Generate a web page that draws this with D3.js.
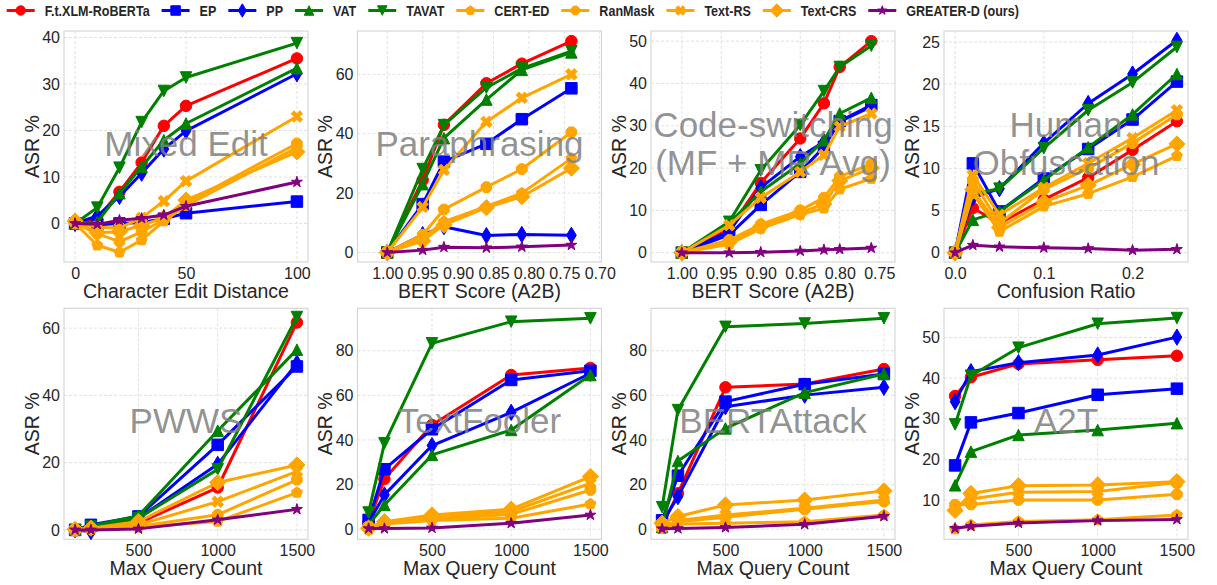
<!DOCTYPE html>
<html><head><meta charset="utf-8">
<script src="https://cdn.jsdelivr.net/npm/d3@7"></script>
<style>
body{margin:0;background:#fff}
svg{display:block}
text{font-family:"Liberation Sans",Arial,Helvetica,sans-serif}
</style>
</head><body>
<svg id="chart" width="1217" height="585"></svg>
<script>
// ---------------- DATA ----------------
const methods = ["F.t.XLM-RoBERTa","EP","PP","VAT","TAVAT","CERT-ED","RanMask","Text-RS","Text-CRS","GREATER-D (ours)"];
const panelTitles = ["Mixed Edit","Paraphrasing","Code-switching\n(MF + MR Avg)","Human\nObfuscation","PWWS","TextFooler","BERTAttack","A2T"];
const xLabels = ["Character Edit Distance","BERT Score (A2B)","BERT Score (A2B)","Confusion Ratio","Max Query Count","Max Query Count","Max Query Count","Max Query Count"];

const xEdit  = [0,10,20,30,40,50,100];
const xPara  = [1.00,0.95,0.92,0.86,0.81,0.74];
const xCode  = [1.00,0.94,0.90,0.85,0.82,0.80,0.76];
const xConf  = [0,0.02,0.05,0.1,0.15,0.2,0.25];
const xQuery = [100,200,500,1000,1500];

const xTicksEdit  = [0,50,100];
const xTicksPara  = [1.00,0.95,0.90,0.85,0.80,0.75,0.70];
const xTicksCode  = [1.00,0.95,0.90,0.85,0.80,0.75];
const xTicksConf  = [0.0,0.1,0.2];
const xTicksQuery = [500,1000,1500];

const yTicksEdit  = [0,10,20,30,40];
const yTicksPara  = [0,20,40,60];
const yTicksCode  = [0,10,20,30,40,50];
const yTicksConf  = [0,5,10,15,20,25];
const yTicksPWWS  = [0,20,40,60];
const yTicksTF    = [0,20,40,60,80];
const yTicksBA    = [0,20,40,60,80];
const yTicksA2T   = [10,20,30,40,50];

// ASR % per method, one array per panel (panel order as panelTitles)
const asrFtXLM = [
  [0,1.0,6.8,13.1,21.0,25.3,35.5],
  [0,24.4,43.0,57.0,63.6,71.2],
  [0,5.5,16.5,27.0,35.3,43.9,50.0],
  [0,5.3,3.5,6.3,8.9,12.2,15.6],
  [0,0.5,2.0,12.6,61.7],
  [3.0,22.5,46.7,69.1,72.3],
  [1.5,16.1,63.6,65.1,71.8],
  [35.6,40.2,43.5,44.5,45.5]];
const asrEP = [
  [0,-0.3,0,0.2,1.0,2.2,4.7],
  [0,16.3,30.6,36.6,44.9,55.3],
  [0,4.2,11.3,19.1,25.0,31.1,34.9],
  [0,10.6,4.9,8.8,12.3,15.8,20.3],
  [0,1.5,4.0,25.3,48.6],
  [4.2,26.9,44.8,66.9,71.0],
  [4.0,24.0,57.2,65.0,69.6],
  [18.5,29.1,31.4,35.9,37.4]];
const asrPP = [
  [0,1.6,5.8,10.8,16.0,19.9,32.2],
  [0,6.0,8.7,5.7,6.1,5.8],
  [0,5.0,15.4,22.7,26.2,31.0,34.5],
  [0,6.5,7.6,13.0,17.7,21.2,25.2],
  [0,-0.5,3.5,19.5,49.6],
  [3.0,15.4,37.5,52.4,69.9],
  [3.0,14.6,54.9,60.1,63.6],
  [34.2,41.6,43.8,45.7,50.1]];
const asrVAT = [
  [0,0.3,6.5,12.2,17.9,21.5,33.4],
  [0,23.0,38.5,51.5,61.5,67.4],
  [0,7.0,14.4,21.1,26.6,32.9,36.6],
  [0,3.9,4.9,8.6,12.5,16.4,21.2],
  [0,1.2,4.2,29.5,53.6],
  [2.0,10.9,33.3,44.5,69.1],
  [1.0,30.6,45.2,61.2,69.6],
  [13.6,21.9,26.0,27.2,28.9]];
const asrTAVAT = [
  [0,3.4,12.0,21.8,28.5,31.4,38.8],
  [0,28.1,42.9,55.5,62.0,67.8],
  [0,7.3,19.5,30.2,38.2,43.9,48.9],
  [0,7.0,7.6,12.4,16.9,20.2,24.4],
  [0,1.0,3.5,18.0,63.3],
  [7.5,38.5,83.3,93.0,94.5],
  [9.9,53.4,90.7,92.2,94.5],
  [28.6,40.6,47.5,53.4,54.8]];
const asrCERT = [
  [0,-4.7,-6.2,-3.6,0.5,3.8,16.3],
  [0,4.8,10.4,15.5,20.0,31.7],
  [0,2.0,5.7,9.0,10.5,15.0,17.5],
  [0,7.0,2.5,5.5,7.0,9.0,11.5],
  [0,0.1,0.8,2.5,11.1],
  [-0.3,2.4,3.9,4.9,11.3],
  [0.3,2.4,2.7,3.4,6.4],
  [2.8,3.8,4.7,5.1,6.3]];
const asrRanMask = [
  [0,-2.2,-3.9,-1.8,0.8,4.4,17.2],
  [0,6.0,14.5,22.0,28.1,40.5],
  [0,3.0,6.7,10.0,13.0,18.0,21.0],
  [0,8.5,3.5,7.5,10.0,13.0,16.4],
  [0,0.2,1.0,4.5,14.9],
  [0.8,2.7,4.5,6.7,17.6],
  [0.5,3.4,5.4,9.0,12.4],
  [8.8,8.9,10.0,10.0,11.4]];
const asrTextRS = [
  [0.3,-0.8,-1.0,1.2,4.8,9.1,23.0],
  [0,15.3,27.8,44.0,52.1,60.0],
  [0,6.5,13.0,19.1,23.1,29.8,32.9],
  [0,9.2,4.5,7.7,10.6,13.6,16.9],
  [0,0.3,1.5,8.4,17.4],
  [1.0,3.0,5.4,7.9,20.6],
  [1.0,3.9,6.4,9.4,13.1],
  [8.4,10.2,11.9,12.1,14.3]];
const asrTextCRS = [
  [0.5,-2.0,-1.8,-0.4,1.2,5.0,15.4],
  [0,3.9,9.3,15.1,18.8,28.4],
  [0,2.5,6.2,9.5,11.5,17.0,20.0],
  [0,7.5,3.0,6.0,8.0,10.5,12.9],
  [0.2,0.5,2.5,14.1,19.3],
  [0.5,3.4,6.4,9.0,23.6],
  [2.7,5.7,10.9,13.1,17.2],
  [7.4,11.6,13.5,13.7,14.5]];
const asrGreater = [
  [0,-0.2,0.7,1.1,1.8,3.7,8.9],
  [0,0.8,1.8,1.6,1.9,2.5],
  [0,0.0,0.1,0.4,0.7,0.8,1.1],
  [0,0.9,0.7,0.6,0.5,0.3,0.4],
  [0,0,0.3,3.0,6.1],
  [0.3,0.3,0.6,2.7,6.4],
  [0.2,0.3,0.8,2.2,5.8],
  [3.0,3.5,4.3,4.9,5.2]];

// ---------------- STYLE / LAYOUT ----------------
const seriesValues = [asrFtXLM,asrEP,asrPP,asrVAT,asrTAVAT,asrCERT,asrRanMask,asrTextRS,asrTextCRS,asrGreater];
const colors  = ["#ff0000","#0000ff","#0000ff","#008000","#008000","#ffa500","#ffa500","#ffa500","#ffa500","#800080"];
const markers = ["o","s","d","^","v","p","8","X","D","*"];

const panelX = [xEdit,xPara,xCode,xConf,xQuery,xQuery,xQuery,xQuery];
const panelXTicks = [xTicksEdit,xTicksPara,xTicksCode,xTicksConf,xTicksQuery,xTicksQuery,xTicksQuery,xTicksQuery];
const panelYTicks = [yTicksEdit,yTicksPara,yTicksCode,yTicksConf,yTicksPWWS,yTicksTF,yTicksBA,yTicksA2T];
const xDomains = [[-5,105],[1.042,0.6975],[1.039,0.730],[-0.0125,0.2625],[30,1570],[30,1570],[30,1570],[30,1570]];
const yDomains = [[-8.3,41.4],[-3.2,74.6],[-2.2,52.4],[-1.1,26.3],[-2.8,65.9],[-4.5,99],[-4.5,99],[0.3,57.2]];
const xFormats = [d3.format("d"),d3.format(".2f"),d3.format(".2f"),d3.format(".1f"),d3.format("d"),d3.format("d"),d3.format("d"),d3.format("d")];

const colLeft = [64,357.5,651,944];
const rowTop = [31,308.3];
const axW = 244, axH = 231;

const svg = d3.select("#chart");

function polygon(n, r, rot){
  const pts=[];
  for(let i=0;i<n;i++){
    const a = -Math.PI/2 + rot + i*2*Math.PI/n;
    pts.push([r*Math.cos(a), r*Math.sin(a)]);
  }
  return "M"+pts.map(p=>p[0].toFixed(2)+","+p[1].toFixed(2)).join("L")+"Z";
}
function star(r, ri){
  const pts=[];
  for(let i=0;i<10;i++){
    const a = -Math.PI/2 + i*Math.PI/5;
    const rr = i%2===0 ? r : ri;
    pts.push([rr*Math.cos(a), rr*Math.sin(a)]);
  }
  return "M"+pts.map(p=>p[0].toFixed(2)+","+p[1].toFixed(2)).join("L")+"Z";
}
function markerPath(t, m){
  const h = m/2;
  const dd = h*Math.SQRT2;
  switch(t){
    case "o": return `M${h},0A${h},${h} 0 1,1 ${-h},0A${h},${h} 0 1,1 ${h},0Z`;
    case "s": return `M${-h},${-h}H${h}V${h}H${-h}Z`;
    case "D": return `M0,${-dd}L${dd},0L0,${dd}L${-dd},0Z`;
    case "d": { const w=0.6*dd; return `M0,${-dd}L${w},0L0,${dd}L${-w},0Z`; }
    case "^": return `M0,${-h}L${h},${h}L${-h},${h}Z`;
    case "v": return `M0,${h}L${h},${-h}L${-h},${-h}Z`;
    case "p": return polygon(5,h,0);
    case "8": return polygon(8,h,Math.PI/8);
    case "X": {
      const v=[[-1,-2],[0,-1],[1,-2],[2,-1],[1,0],[2,1],[1,2],[0,1],[-1,2],[-2,1],[-1,0],[-2,-1]];
      return "M"+v.map(p=>(p[0]*m/4).toFixed(2)+","+(p[1]*m/4).toFixed(2)).join("L")+"Z";
    }
    case "*": return star(h, h*0.381966);
  }
}

const textColor = "#262626";

panelTitles.forEach((title, pi) => {
  const col = pi % 4, row = Math.floor(pi/4);
  const left = colLeft[col], top = rowTop[row];
  const x = d3.scaleLinear().domain(xDomains[pi]).range([left, left+axW]);
  const y = d3.scaleLinear().domain(yDomains[pi]).range([top+axH, top]);
  const g = svg.append("g");

  // grid
  const grid = g.append("g");
  grid.selectAll("line.gx").data(panelXTicks[pi]).join("line")
    .attr("x1", d=>x(d)).attr("x2", d=>x(d)).attr("y1", top).attr("y2", top+axH)
    .attr("stroke","#dedede").attr("stroke-width",0.9).attr("stroke-dasharray","3,2");
  grid.selectAll("line.gy").data(panelYTicks[pi]).join("line")
    .attr("x1", left).attr("x2", left+axW).attr("y1", d=>y(d)).attr("y2", d=>y(d))
    .attr("stroke","#dedede").attr("stroke-width",0.9).attr("stroke-dasharray","3,2");

  // spines
  g.append("rect").attr("x",left).attr("y",top).attr("width",axW).attr("height",axH)
    .attr("fill","none").attr("stroke","#d3d3d3").attr("stroke-width",1.1);

  // axes (tick labels via d3 axes)
  const xAxis = d3.axisBottom(x).tickValues(panelXTicks[pi]).tickFormat(xFormats[pi]).tickSize(0).tickPadding(5);
  const gx = g.append("g").attr("transform",`translate(0,${top+axH})`).call(xAxis);
  gx.select(".domain").remove();
  gx.selectAll("text").attr("font-size",16).attr("fill",textColor)
    .attr("font-family",'"Liberation Sans",Arial,sans-serif').attr("dy","0.72em");

  const yAxis = d3.axisLeft(y).tickValues(panelYTicks[pi]).tickFormat(d3.format("d")).tickSize(0).tickPadding(4);
  const gy = g.append("g").attr("transform",`translate(${left},0)`).call(yAxis);
  gy.select(".domain").remove();
  gy.selectAll("text").attr("font-size",16).attr("fill",textColor)
    .attr("font-family",'"Liberation Sans",Arial,sans-serif');

  // axis labels
  g.append("text").attr("x", left+axW/2).attr("y", top+axH+36)
    .attr("text-anchor","middle").attr("font-size",19.5).attr("fill",textColor).text(xLabels[pi]);
  g.append("text").attr("transform",`translate(${left-25.5},${top+axH/2}) rotate(-90)`)
    .attr("text-anchor","middle").attr("font-size",19.5).attr("fill",textColor).text("ASR %");

  // series
  const line = d3.line().x(d=>x(d[0])).y(d=>y(d[1]));
  seriesValues.forEach((vals, si) => {
    const pts = panelX[pi].map((xv,i)=>[xv, vals[pi][i]]);
    const sg = g.append("g");
    sg.append("path").attr("d", line(pts)).attr("fill","none")
      .attr("stroke", colors[si]).attr("stroke-width",3).attr("stroke-linejoin","round");
    sg.selectAll("path.m").data(pts).join("path").attr("class","m")
      .attr("transform", d=>`translate(${x(d[0])},${y(d[1])})`)
      .attr("d", markerPath(markers[si], 11.5))
      .attr("fill", colors[si]).attr("stroke", colors[si]).attr("stroke-width",1).attr("stroke-linejoin","miter");
  });

  // title text
  const lines = title.split("\n");
  const cy = top + axH/2 - 3;
  const lh = 38;
  const t = g.append("text").attr("text-anchor","middle").attr("font-size",35)
    .attr("fill","#808080").attr("fill-opacity",0.85);
  lines.forEach((ln, li) => {
    t.append("tspan").attr("x", left+axW/2)
      .attr("y", cy + (li - (lines.length-1)/2)*lh + 12.5).text(ln);
  });
});

// legend
const leg = svg.append("g");
let lx = 6.7;
const ly = 10.5;
const scaleX = 0.865;
methods.forEach((name, si) => {
  leg.append("line").attr("x1", lx).attr("x2", lx+28).attr("y1", ly).attr("y2", ly)
    .attr("stroke", colors[si]).attr("stroke-width",3);
  leg.append("path").attr("transform",`translate(${lx+14},${ly})`)
    .attr("d", markerPath(markers[si], 9.5)).attr("fill", colors[si]).attr("stroke", colors[si]).attr("stroke-width",1);
  const tx = lx + 38;
  const tg = leg.append("g").attr("transform",`translate(${tx},${ly+5}) scale(${scaleX},1)`);
  const txt = tg.append("text").attr("x",0).attr("y",0).attr("font-size",14.5).attr("font-weight","bold")
    .attr("fill",textColor).text(name);
  const w = txt.node().getComputedTextLength()*scaleX;
  lx = tx + w + 12;
});
</script>
</body></html>
